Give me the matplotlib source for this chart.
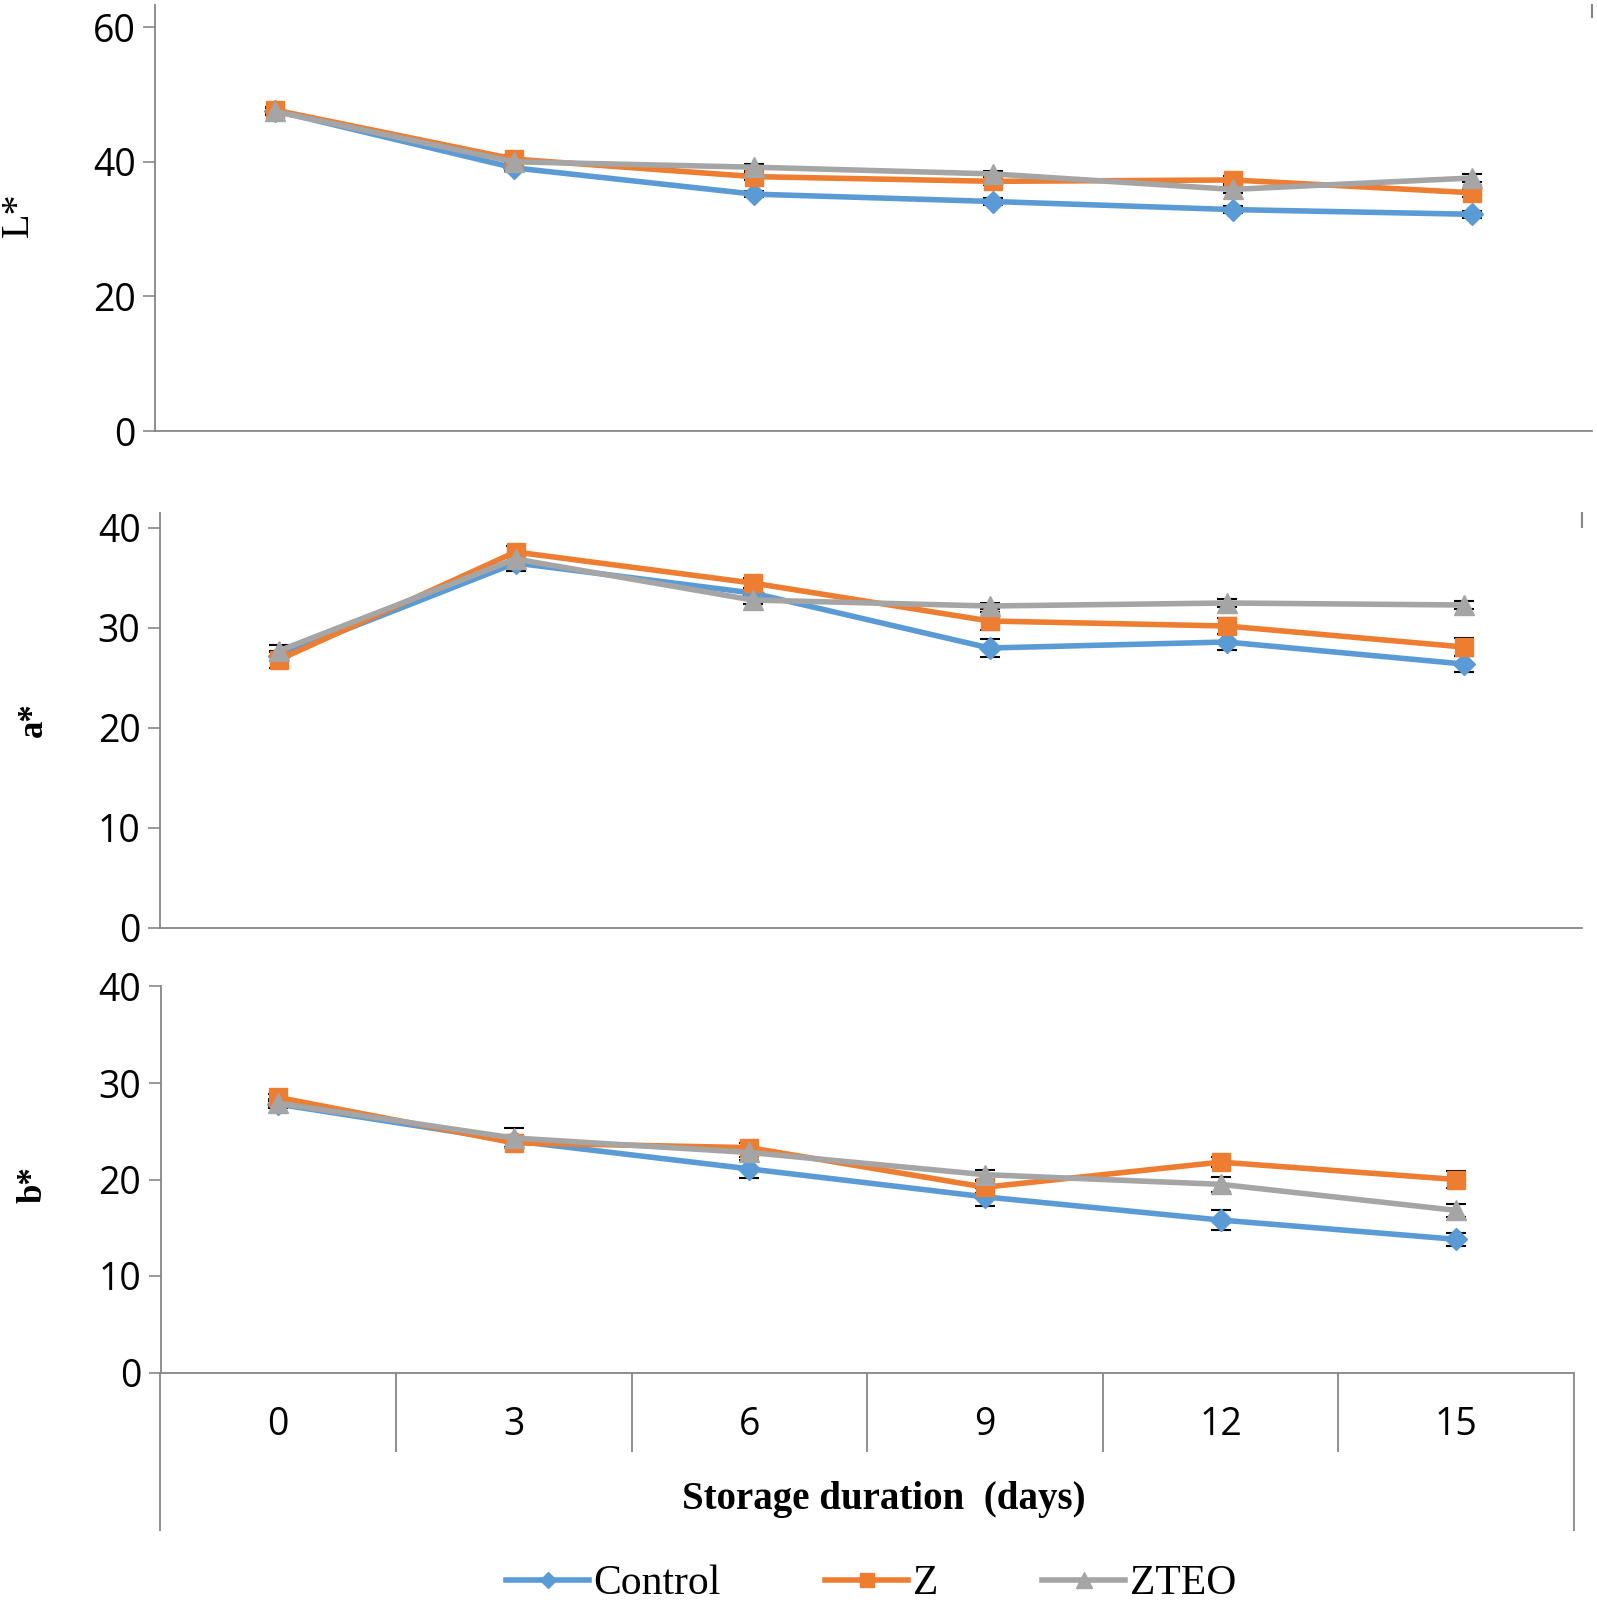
import matplotlib.pyplot as plt
from matplotlib.lines import Line2D

W, H = 1597, 1602

days = ["0", "3", "6", "9", "12", "15"]
series = ["Control", "Z", "ZTEO"]
colors = ["#5B9BD5", "#ED7D31", "#A5A5A5"]
markers = ["D", "s", "^"]
msizes = [11, 13, 15]

L_control = [47.6, 39.1, 35.2, 34.1, 32.9, 32.2]
L_z = [47.7, 40.4, 37.8, 37.1, 37.3, 35.4]
L_zteo = [47.5, 40.0, 39.2, 38.2, 35.9, 37.6]
L_err = [[0.5, 0.5, 0.5, 0.5, 0.5, 0.5],
         [0.5, 0.6, 0.5, 0.6, 0.6, 0.6],
         [0.5, 0.5, 0.5, 0.5, 0.6, 0.6]]

a_control = [27.2, 36.5, 33.5, 28.0, 28.6, 26.4]
a_z = [26.8, 37.6, 34.5, 30.7, 30.2, 28.1]
a_zteo = [27.7, 36.9, 32.8, 32.2, 32.5, 32.3]
a_err = [[0.5, 0.8, 0.5, 0.9, 0.8, 0.8],
         [0.8, 0.6, 0.5, 0.9, 0.8, 0.9],
         [0.6, 0.5, 0.4, 0.3, 0.4, 0.4]]

b_control = [27.8, 24.0, 21.1, 18.2, 15.8, 13.8]
b_z = [28.5, 23.8, 23.3, 19.2, 21.8, 20.0]
b_zteo = [27.9, 24.3, 22.8, 20.5, 19.5, 16.8]
b_err = [[0.4, 0.6, 0.9, 0.9, 1.0, 0.7],
         [0.4, 0.5, 0.5, 0.6, 0.5, 0.9],
         [0.4, 1.0, 0.5, 0.5, 0.8, 0.7]]

AXIS_GREY = "#868686"
TICK_FONT = "Open Sans"
SERIF = "Liberation Serif"

fig = plt.figure(figsize=(W / 100, H / 100), dpi=100)


def px_axes(left, right, top, bottom):
    return fig.add_axes([left / W, 1 - bottom / H, (right - left) / W, (bottom - top) / H])


def style(ax, ymax, yticks):
    ax.set_xlim(-0.5, 5.5)
    ax.set_ylim(0, ymax)
    for s in ["top", "right"]:
        ax.spines[s].set_visible(False)
    for s in ["left", "bottom"]:
        ax.spines[s].set_color(AXIS_GREY)
        ax.spines[s].set_linewidth(1.3)
    ax.set_yticks(yticks)
    ax.set_yticklabels([str(t) for t in yticks], fontfamily=TICK_FONT, fontsize=27)
    ax.tick_params(axis="y", direction="out", length=9, width=1.2, color=AXIS_GREY, pad=5)
    ax.set_xticks([])


def draw(ax, data, errs):
    x = list(range(len(days)))
    for vals, err, c, m, ms in zip(data, errs, colors, markers, msizes):
        ax.errorbar(x, vals, yerr=err, fmt="none", ecolor="black", elinewidth=1.3,
                    capsize=7, capthick=1.5, zorder=2)
        ax.plot(x, vals, color=c, lw=4, marker=m, ms=ms, mec=c, mfc=c, zorder=3)


# top panel L*
ax1 = px_axes(155, 1592, 5, 431)
style(ax1, 63.3, [0, 20, 40, 60])
draw(ax1, [L_control, L_z, L_zteo], L_err)
ax1.axvline(5.5, ymin=0.972, ymax=1.0, color=AXIS_GREY, lw=1.5, clip_on=False)
fig.text(18 / W, 1 - 215 / H, "L*", fontfamily=SERIF, fontsize=29, rotation=90,
         ha="center", va="center")

# middle panel a*
ax2 = px_axes(160, 1582, 513, 928)
style(ax2, 41.5, [0, 10, 20, 30, 40])
draw(ax2, [a_control, a_z, a_zteo], a_err)
ax2.axvline(5.5, ymin=0.966, ymax=1.0, color=AXIS_GREY, lw=1.5, clip_on=False)
fig.text(33 / W, 1 - 720 / H, "a*", fontfamily=SERIF, fontweight="bold", fontsize=25,
         rotation=90, ha="center", va="center")

# bottom panel b*
ax3 = px_axes(160.5, 1574, 986.5, 1372.5)
style(ax3, 40, [0, 10, 20, 30, 40])
draw(ax3, [b_control, b_z, b_zteo], b_err)
fig.text(33 / W, 1 - 1185 / H, "b*", fontfamily=SERIF, fontweight="bold", fontsize=25,
         rotation=90, ha="center", va="center")

# category axis with separators
ax3.set_xticks(range(len(days)))
ax3.set_xticklabels(days, fontfamily=TICK_FONT, fontsize=27)
ax3.tick_params(axis="x", length=0, pad=24)
trans = ax3.get_xaxis_transform()
h_axes = 1372.5 - 986.5
inner = -(1452 - 1372.5) / h_axes
outer = -(1531 - 1372.5) / h_axes
ax3.vlines([0.5, 1.5, 2.5, 3.5, 4.5], inner, 0, transform=trans, colors=AXIS_GREY,
           lw=1.3, clip_on=False)
ax3.vlines([-0.5, 5.5], outer, 0, transform=trans, colors=AXIS_GREY, lw=1.3, clip_on=False)

fig.text(884 / W, 1 - 1500 / H, "Storage duration  (days)", fontfamily=SERIF,
         fontweight="bold", fontsize=28, ha="center", va="center")

handles = [Line2D([], [], color=c, lw=4, marker=m, ms=ms * 0.75, mec=c, mfc=c)
           for c, m, ms in zip(colors, markers, msizes)]
fig.legend(handles, series, loc="center", bbox_to_anchor=(871 / W, 1 - 1584 / H),
           ncol=3, frameon=False, prop={"family": SERIF, "size": 30},
           handlelength=2.0, handletextpad=0.1, columnspacing=2.5, borderpad=0)

fig.savefig("out.png", dpi=100)
